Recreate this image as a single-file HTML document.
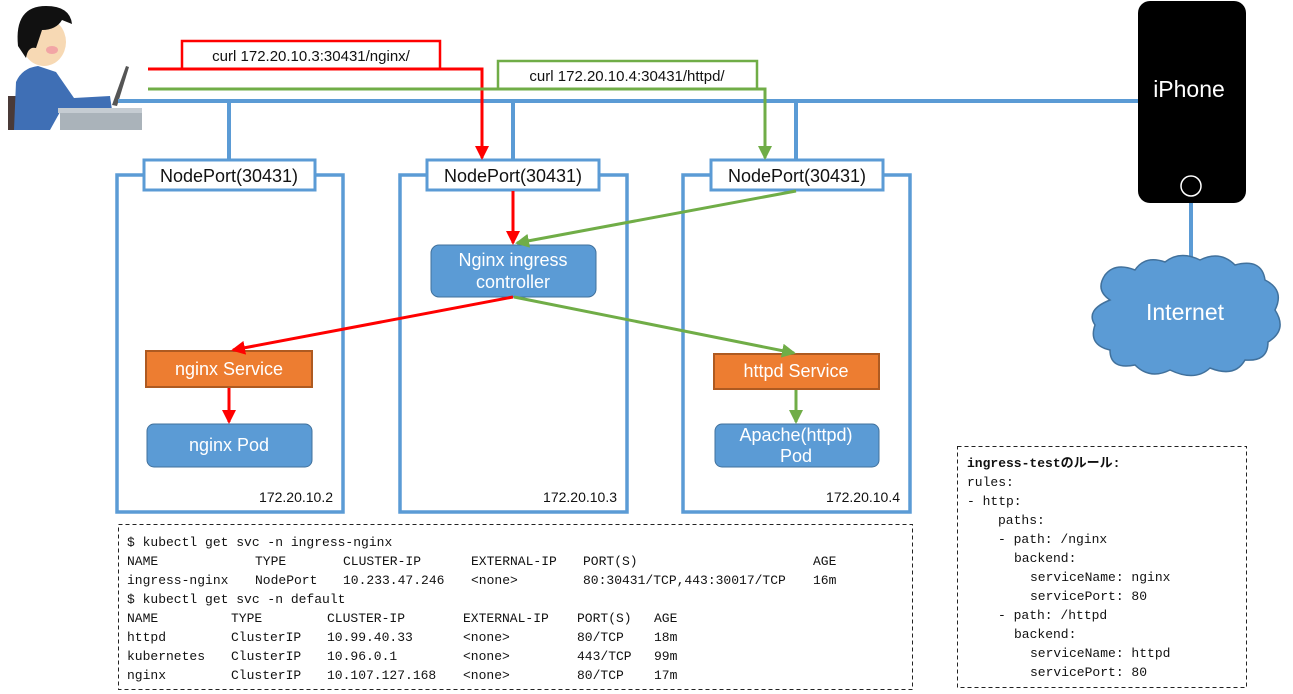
<!DOCTYPE html>
<html><head><meta charset="utf-8"><style>
body{margin:0;background:#fff;width:1293px;height:694px;overflow:hidden}
svg{display:block}
.s{font-family:"Liberation Sans","Noto Sans CJK JP",sans-serif}
.m{font-family:"Liberation Mono","Noto Sans CJK JP",monospace;font-size:13px;fill:#111}
</style></head><body>
<svg width="1293" height="694" viewBox="0 0 1293 694" xmlns="http://www.w3.org/2000/svg">
<defs>
<marker id="ar" markerWidth="14" markerHeight="14" refX="12" refY="7" orient="auto" markerUnits="userSpaceOnUse"><path d="M0,0 L14,7 L0,14 z" fill="#ff0000"/></marker>
<marker id="ag" markerWidth="14" markerHeight="14" refX="12" refY="7" orient="auto" markerUnits="userSpaceOnUse"><path d="M0,0 L14,7 L0,14 z" fill="#70ad47"/></marker>
</defs>
<!-- person -->
<rect x="8" y="96" width="14" height="34" fill="#4a3a38"/>
<path d="M14 130 L16 82 Q22 68 38 66 L56 72 L74 98 L110 96 L112 110 L60 112 L50 130 Z" fill="#3f6fb5"/>
<ellipse cx="44" cy="42" rx="22" ry="24" fill="#f7d9b4"/>
<path d="M18 46 Q14 6 46 6 Q70 6 72 24 L62 20 Q56 30 42 30 L36 48 Q28 46 26 58 Z" fill="#111"/>
<ellipse cx="52" cy="50" rx="6" ry="4" fill="#f2a5a5"/>
<path d="M112 105 L126 66 L129 67 L117 106 Z" fill="#555"/>
<rect x="60" y="110" width="82" height="20" fill="#aab3ba"/>
<rect x="58" y="108" width="84" height="5" fill="#c5ccd2"/>
<!-- lines -->
<line x1="118" y1="101" x2="1140" y2="101" stroke="#5b9bd5" stroke-width="4"/>
<line x1="229" y1="101" x2="229" y2="160" stroke="#5b9bd5" stroke-width="4"/>
<line x1="513" y1="101" x2="513" y2="160" stroke="#5b9bd5" stroke-width="4"/>
<line x1="796" y1="101" x2="796" y2="160" stroke="#5b9bd5" stroke-width="4"/>
<!-- frames -->
<g fill="none" stroke="#5b9bd5" stroke-width="3.5">
<rect x="117" y="175" width="226" height="337"/>
<rect x="400" y="175" width="227" height="337"/>
<rect x="683" y="175" width="227" height="337"/>
</g>
<g fill="#fff" stroke="#5b9bd5" stroke-width="3">
<rect x="144" y="160" width="171" height="30"/>
<rect x="427" y="160" width="172" height="30"/>
<rect x="711" y="160" width="172" height="30"/>
</g>
<g class="s" font-size="18" fill="#111" text-anchor="middle">
<text x="229" y="182">NodePort(30431)</text>
<text x="513" y="182">NodePort(30431)</text>
<text x="797" y="182">NodePort(30431)</text>
</g>
<!-- curl labels -->
<path d="M182 69 V41 H440 V69" fill="none" stroke="#ff0000" stroke-width="2.5"/>
<path d="M498 89 V61 H757 V89" fill="none" stroke="#70ad47" stroke-width="2.5"/>
<text class="s" x="311" y="61" font-size="15" fill="#111" text-anchor="middle">curl  172.20.10.3:30431/nginx/</text>
<text class="s" x="627" y="81" font-size="15" fill="#111" text-anchor="middle">curl  172.20.10.4:30431/httpd/</text>
<polyline points="148,69 482,69 482,158" fill="none" stroke="#ff0000" stroke-width="3" marker-end="url(#ar)"/>
<polyline points="148,89 765,89 765,158" fill="none" stroke="#70ad47" stroke-width="3" marker-end="url(#ag)"/>
<!-- boxes -->
<rect x="431" y="245" width="165" height="52" rx="8" fill="#5b9bd5" stroke="#41719c"/>
<text class="s" x="513" y="266" font-size="18" fill="#fff" text-anchor="middle">Nginx ingress</text>
<text class="s" x="513" y="288" font-size="18" fill="#fff" text-anchor="middle">controller</text>
<rect x="146" y="351" width="166" height="36" fill="#ed7d31" stroke="#ae5a21" stroke-width="2"/>
<text class="s" x="229" y="375" font-size="18" fill="#fff" text-anchor="middle">nginx Service</text>
<rect x="147" y="424" width="165" height="43" rx="7" fill="#5b9bd5" stroke="#41719c"/>
<text class="s" x="229" y="451" font-size="18" fill="#fff" text-anchor="middle">nginx Pod</text>
<rect x="714" y="354" width="165" height="35" fill="#ed7d31" stroke="#ae5a21" stroke-width="2"/>
<text class="s" x="796" y="377" font-size="18" fill="#fff" text-anchor="middle">httpd Service</text>
<rect x="715" y="424" width="164" height="43" rx="7" fill="#5b9bd5" stroke="#41719c"/>
<text class="s" x="796" y="441" font-size="18" fill="#fff" text-anchor="middle">Apache(httpd)</text>
<text class="s" x="796" y="462" font-size="18" fill="#fff" text-anchor="middle">Pod</text>
<!-- arrows -->
<line x1="513" y1="191" x2="513" y2="243" stroke="#ff0000" stroke-width="3" marker-end="url(#ar)"/>
<line x1="513" y1="297" x2="233" y2="350" stroke="#ff0000" stroke-width="3" marker-end="url(#ar)"/>
<line x1="229" y1="388" x2="229" y2="422" stroke="#ff0000" stroke-width="3" marker-end="url(#ar)"/>
<line x1="796" y1="191" x2="517" y2="243" stroke="#70ad47" stroke-width="3" marker-end="url(#ag)"/>
<line x1="514" y1="297" x2="794" y2="353" stroke="#70ad47" stroke-width="3" marker-end="url(#ag)"/>
<line x1="796" y1="390" x2="796" y2="422" stroke="#70ad47" stroke-width="3" marker-end="url(#ag)"/>
<g class="s" font-size="14" fill="#111" text-anchor="end">
<text x="333" y="502">172.20.10.2</text>
<text x="617" y="502">172.20.10.3</text>
<text x="900" y="502">172.20.10.4</text>
</g>
<!-- iPhone -->
<rect x="1138" y="1" width="108" height="202" rx="12" fill="#000"/>
<text class="s" x="1189" y="97" font-size="23" fill="#fff" text-anchor="middle">iPhone</text>
<circle cx="1191" cy="186" r="10" fill="none" stroke="#fff" stroke-width="1.5"/>
<line x1="1191" y1="203" x2="1191" y2="272" stroke="#5b9bd5" stroke-width="4"/>
<path d="M1110 300 Q1095 290 1105 275 Q1115 262 1135 270 Q1145 255 1165 262 Q1180 250 1200 260 Q1220 250 1235 265 Q1262 258 1265 280 Q1285 290 1275 310 Q1288 330 1268 342 Q1268 362 1245 360 Q1235 378 1210 368 Q1195 382 1170 370 Q1150 380 1135 365 Q1110 370 1110 350 Q1088 345 1095 325 Q1085 310 1110 300 Z" fill="#5b9bd5" stroke="#41719c" stroke-width="1.5"/>
<text class="s" x="1185" y="320" font-size="23" fill="#fff" text-anchor="middle">Internet</text>
<!-- kubectl box -->
<rect x="118.5" y="524.5" width="794" height="165" fill="none" stroke="#222" stroke-dasharray="4,3"/>
<g class="m">
<text x="127" y="546">$ kubectl get svc -n ingress-nginx</text>
<text x="127" y="565">NAME</text><text x="255" y="565">TYPE</text><text x="343" y="565">CLUSTER-IP</text><text x="471" y="565">EXTERNAL-IP</text><text x="583" y="565">PORT(S)</text><text x="813" y="565">AGE</text>
<text x="127" y="584">ingress-nginx</text><text x="255" y="584">NodePort</text><text x="343" y="584">10.233.47.246</text><text x="471" y="584">&lt;none&gt;</text><text x="583" y="584">80:30431/TCP,443:30017/TCP</text><text x="813" y="584">16m</text>
<text x="127" y="603">$ kubectl get svc -n default</text>
<text x="127" y="622">NAME</text><text x="231" y="622">TYPE</text><text x="327" y="622">CLUSTER-IP</text><text x="463" y="622">EXTERNAL-IP</text><text x="577" y="622">PORT(S)</text><text x="654" y="622">AGE</text>
<text x="127" y="641">httpd</text><text x="231" y="641">ClusterIP</text><text x="327" y="641">10.99.40.33</text><text x="463" y="641">&lt;none&gt;</text><text x="577" y="641">80/TCP</text><text x="654" y="641">18m</text>
<text x="127" y="660">kubernetes</text><text x="231" y="660">ClusterIP</text><text x="327" y="660">10.96.0.1</text><text x="463" y="660">&lt;none&gt;</text><text x="577" y="660">443/TCP</text><text x="654" y="660">99m</text>
<text x="127" y="679">nginx</text><text x="231" y="679">ClusterIP</text><text x="327" y="679">10.107.127.168</text><text x="463" y="679">&lt;none&gt;</text><text x="577" y="679">80/TCP</text><text x="654" y="679">17m</text>
</g>
<!-- rules box -->
<rect x="957.5" y="446.5" width="289" height="241" fill="none" stroke="#222" stroke-dasharray="4,3"/>
<g class="m">
<text x="967" y="467" font-weight="bold">ingress-testのルール:</text>
<text x="967" y="486">rules:</text>
<text x="967" y="505">- http:</text>
<text x="998" y="524">paths:</text>
<text x="998" y="543">- path: /nginx</text>
<text x="1014" y="562">backend:</text>
<text x="1030" y="581">serviceName: nginx</text>
<text x="1030" y="600">servicePort: 80</text>
<text x="998" y="619">- path: /httpd</text>
<text x="1014" y="638">backend:</text>
<text x="1030" y="657">serviceName: httpd</text>
<text x="1030" y="676">servicePort: 80</text>
</g>
</svg>
</body></html>
